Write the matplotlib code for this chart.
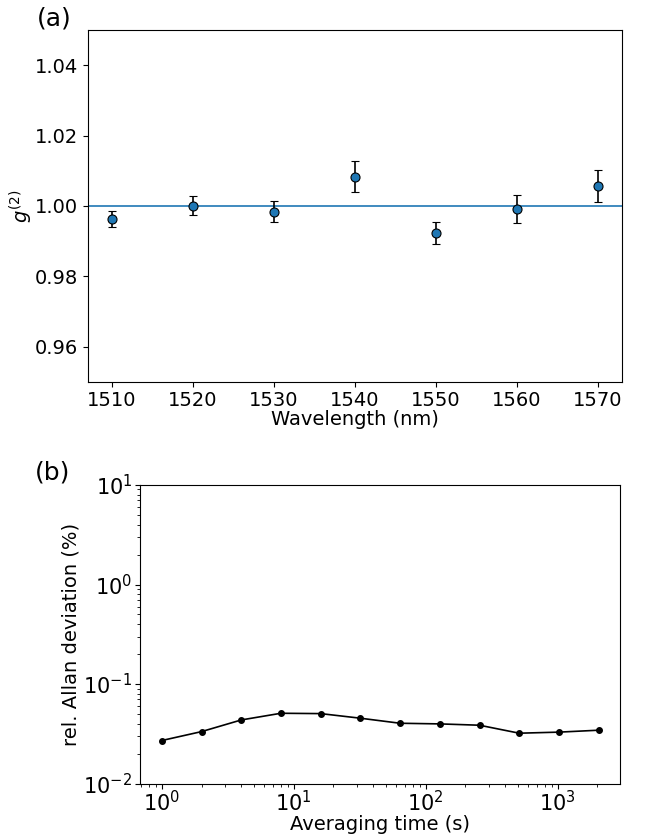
import matplotlib
matplotlib.use("Agg")
from matplotlib import pyplot as plt

# (a) g2 vs wavelength
wavelength = [1510, 1520, 1530, 1540, 1550, 1560, 1570]
g2 = [0.9963, 1.0000, 0.9984, 1.0083, 0.9922, 0.9992, 1.0057]
g2_err = [0.0023, 0.0027, 0.0031, 0.0044, 0.0031, 0.0040, 0.0046]

# (b) relative Allan deviation
tau = [1, 2, 4, 8, 16, 32, 64, 128, 256, 512, 1024, 2048]
allan = [0.0271, 0.0333, 0.0436, 0.0509, 0.0505, 0.0454, 0.0404, 0.0398,
         0.0386, 0.0321, 0.0329, 0.0344]

fig = plt.figure(figsize=(6.45, 8.39), dpi=100)

ax1 = fig.add_axes([0.136, 0.545, 0.828, 0.419])
ax1.errorbar(wavelength, g2, yerr=g2_err, fmt='o', color='C0', ecolor='black',
             markeredgecolor='black', markeredgewidth=0.8, markersize=6.5,
             capsize=3, elinewidth=1.2)
ax1.axhline(1.0, color='C0', linewidth=1.2, zorder=0)
ax1.set_ylim(0.95, 1.05)
ax1.set_yticks([0.96, 0.98, 1.00, 1.02, 1.04])
ax1.set_xlabel("Wavelength (nm)", fontsize=14, labelpad=0)
ax1.set_ylabel(r"$g^{(2)}$", fontsize=14, labelpad=0)
ax1.tick_params(labelsize=14)

ax2 = fig.add_axes([0.217, 0.066, 0.745, 0.356])
ax2.loglog(tau, allan, '-o', color='black', markersize=4, linewidth=1.2)
ax2.set_ylim(0.01, 10)
ax2.set_xlabel("Averaging time (s)", fontsize=14, labelpad=0)
ax2.set_ylabel("rel. Allan deviation (%)", fontsize=14, labelpad=2)
ax2.tick_params(axis='y', labelsize=15, pad=2)
ax2.tick_params(axis='x', labelsize=15, pad=1)

fig.text(0.057, 0.992, "(a)", fontsize=18, va='top', ha='left')
fig.text(0.054, 0.451, "(b)", fontsize=18, va='top', ha='left')

fig.savefig("out.png", dpi=100)
